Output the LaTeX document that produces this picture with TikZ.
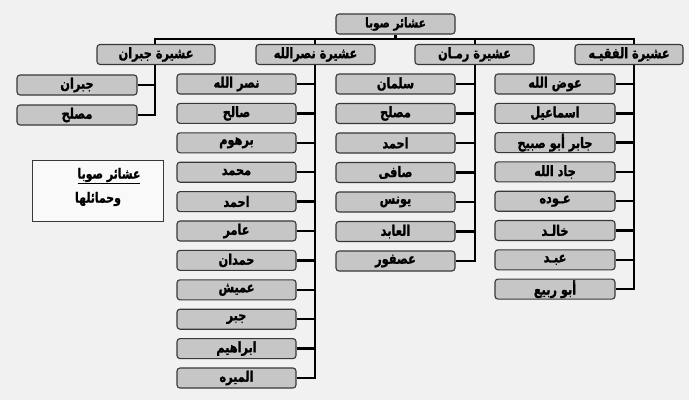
\documentclass[tikz,border=0pt]{standalone}
\usepackage{fontspec}
\newfontfamily\arabicfont[Script=Arabic,FakeStretch=0.78,BoldFeatures={FakeBold=1.2}]{DejaVu Sans}
\TeXXeTstate=1
\definecolor{bgc}{HTML}{F1F1F1}
\definecolor{boxc}{HTML}{C6C6C6}
\definecolor{edgec}{HTML}{383838}
\begin{document}
\begin{tikzpicture}[x=1pt,y=-1pt,
  gbox/.style={draw=edgec,line width=1.1pt,fill=boxc,rounded corners=3pt,
    minimum width=119pt,minimum height=20pt,inner sep=0pt,
    font=\arabicfont\bfseries\fontsize{14.5}{14}\selectfont},
  clanbox/.style={gbox,font=\arabicfont\bfseries\fontsize{14.5}{14}\selectfont},
  link/.style={draw=black,line width=2.4pt},
  ar/.style={execute at begin node=\beginR,execute at end node=\endR}]
\fill[bgc] (0,0) rectangle (689,400);
\useasboundingbox (0,0) rectangle (689,400);

% coordinates of bus and spines
\coordinate (spA) at (155,39);
\coordinate (spB) at (315,39);
\coordinate (spC) at (475,39);
\coordinate (spD) at (634,39);

% root
\node[clanbox,ar,minimum width=119pt,font=\arabicfont\bfseries\fontsize{13.5}{13}\selectfont] (root) at (395.5,24) {عشائر صوبا};

% clans
\node[clanbox,ar,minimum width=118pt] (clanA) at (156,54.5) {عشيرة جبران};
\node[clanbox,ar,minimum width=119pt] (clanB) at (315.5,54.5) {عشيرة نصرالله};
\node[clanbox,ar,minimum width=119pt] (clanC) at (474.5,54.5) {عشيرة رمـان};
\node[clanbox,ar,minimum width=108pt] (clanD) at (629,54.5) {عشيرة الفقيـه};

% kids of A
\foreach \t [count=\i from 0] in {جبران,مصلح}{
  \node[gbox,ar,minimum width=120pt] (a\i) at (77,85+30*\i) {\t};
  \draw[link] (a\i.east) -- (a\i.east -| spA);
}
% kids of B
\foreach \t [count=\i from 0] in {نصر الله,صالح,برهوم,محمد,احمد,عامر,حمدان,عميش,جبر,ابراهيم,الميره}{
  \node[gbox,ar] (b\i) at (236.5,84+29.4*\i) {\t};
  \draw[link] (b\i.east) -- (b\i.east -| spB);
}
% kids of C
\foreach \t [count=\i from 0] in {سلمان,مصلح,احمد,صافى,يونس,العابد,عصفور}{
  \node[gbox,ar] (c\i) at (395.5,84+29.5*\i) {\t};
  \draw[link] (c\i.east) -- (c\i.east -| spC);
}
% kids of D
\foreach \t [count=\i from 0] in {عوض الله,اسماعيل,جابر  أبو  صبيح,جاد الله,عـوده,خالـد,عبـد,أبو ربيع}{
  \node[gbox,ar,minimum width=120pt] (d\i) at (555,84+29.3*\i) {\t};
  \draw[link] (d\i.east) -- (d\i.east -| spD);
}

% bus
\draw[link] (root.south) -- (root.south |- spA);
\draw[link,line cap=rect] (spA) -- (spD);
\draw[link] (spA) -- (spA |- clanA.north);
\draw[link] (spB) -- (spB |- clanB.north);
\draw[link] (spC) -- (spC |- clanC.north);
\draw[link] (spD) -- (spD |- clanD.north);
% spines
\draw[link] (spA |- clanA.south) -- ([yshift=-1.2pt]a1.east -| spA);
\draw[link] (spB |- clanB.south) -- ([yshift=-1.2pt]b10.east -| spB);
\draw[link] (spC |- clanC.south) -- ([yshift=-1.2pt]c6.east -| spC);
\draw[link] (spD |- clanD.south) -- ([yshift=-1.2pt]d7.east -| spD);

% legend
\node[draw=edgec,line width=0.9pt,fill=white!60!bgc,minimum width=131pt,minimum height=61pt] (legend) at (97.5,190.5) {};
\node[font=\arabicfont\bfseries\fontsize{14}{14}\selectfont,inner sep=0pt] (leg1) at (109,176) {\underline{\beginR عشائر صوبا\endR}};
\node[font=\arabicfont\bfseries\fontsize{14}{14}\selectfont,inner sep=0pt] (leg2) at (98,199) {\beginR وحمائلها\endR};
\end{tikzpicture}
\end{document}
